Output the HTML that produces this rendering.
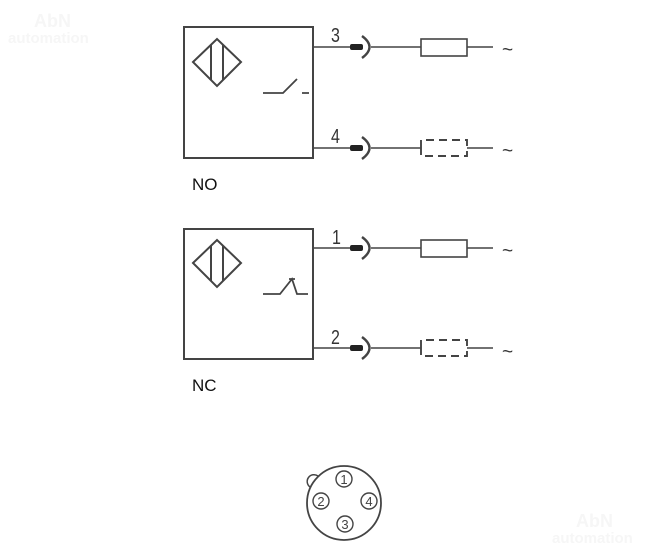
<!DOCTYPE html>
<html><head><meta charset="utf-8"><style>
html,body{margin:0;padding:0;background:#fff;}
svg{display:block;}
text{font-family:"Liberation Sans",sans-serif;}
</style></head><body>
<svg width="655" height="550" viewBox="0 0 655 550" xmlns="http://www.w3.org/2000/svg">
<text x="34" y="27" font-size="18" font-weight="bold" fill="#f6f6f6">AbN</text>
<text x="8" y="43" font-size="15" font-weight="bold" fill="#f6f6f6">automation</text>
<text x="576" y="527" font-size="18" font-weight="bold" fill="#f6f6f6">AbN</text>
<text x="552" y="543" font-size="15" font-weight="bold" fill="#f6f6f6">automation</text>

<g fill="none" stroke="#444" stroke-width="2">
  <rect x="184" y="27" width="129" height="131"/>
  <path d="M193 62 L217 39 L241 62 L217 86 Z M211 45 V80 M223 45 V80"/>
  <path d="M263 93 H283 L297 79 M302 93 H309" stroke-width="1.8"/>
  <rect x="184" y="229" width="129" height="130"/>
  <path d="M193 263 L217 240 L241 263 L217 287 Z M211 246 V281 M223 246 V281"/>
  <path d="M263 294 H280 L292 279 L297 294 H308 M289 279 H295" stroke-width="1.8"/>
</g>

<g fill="none" stroke="#444" stroke-width="1.6">
  <path d="M313 47 H351 M313 148 H351 M313 248 H351 M313 348 H351"/>
  <path d="M371 47 H421 M467 47 H493 M371 248 H421 M467 248 H493"/>
  <path d="M371 148 H421 M467 148 H493 M371 348 H421 M467 348 H493"/>
  <rect x="421" y="39" width="46" height="17"/>
  <rect x="421" y="240" width="46" height="17"/>
  <g stroke-dasharray="8,5" stroke-width="1.9">
    <path d="M421 148 V140 H467 V156 H421 V148"/>
    <path d="M421 348 V340 H467 V356 H421 V348"/>
  </g>
  <g stroke-width="2.4">
    <path d="M362 36 Q377 47 362 58"/>
    <path d="M362 137 Q377 148 362 159"/>
    <path d="M362 237 Q377 248 362 259"/>
    <path d="M362 337 Q377 348 362 359"/>
  </g>
  <circle cx="344" cy="503" r="37" stroke-width="1.8"/>
  <path d="M310 487 A6 6 0 0 1 318 476" stroke-width="1.5"/>
  <circle cx="344" cy="479" r="8" stroke-width="1.4"/>
  <circle cx="321" cy="501" r="8" stroke-width="1.4"/>
  <circle cx="369" cy="501" r="8" stroke-width="1.4"/>
  <circle cx="345" cy="524" r="8" stroke-width="1.4"/>
</g>
<g fill="#222">
  <rect x="350" y="44" width="13" height="6" rx="2"/>
  <rect x="350" y="145" width="13" height="6" rx="2"/>
  <rect x="350" y="245" width="13" height="6" rx="2"/>
  <rect x="350" y="345" width="13" height="6" rx="2"/>
</g>
<g font-size="20" fill="#333">
  <text x="331" y="42" transform="translate(331 0) scale(0.8 1) translate(-331 0)">3</text>
  <text x="331" y="143" transform="translate(331 0) scale(0.8 1) translate(-331 0)">4</text>
  <text x="332" y="244" transform="translate(332 0) scale(0.8 1) translate(-332 0)">1</text>
  <text x="331" y="344" transform="translate(331 0) scale(0.8 1) translate(-331 0)">2</text>
  <text x="502" y="56" font-size="19">~</text>
  <text x="502" y="157" font-size="19">~</text>
  <text x="502" y="257" font-size="19">~</text>
  <text x="502" y="358" font-size="19">~</text>
</g>
<text x="192" y="190" font-size="17" fill="#111">NO</text>
<text x="192" y="391" font-size="17" fill="#111">NC</text>
<g font-size="13" fill="#444" text-anchor="middle">
  <text x="344" y="484">1</text>
  <text x="321" y="506">2</text>
  <text x="369" y="506">4</text>
  <text x="345" y="529">3</text>
</g>
</svg>
</body></html>
